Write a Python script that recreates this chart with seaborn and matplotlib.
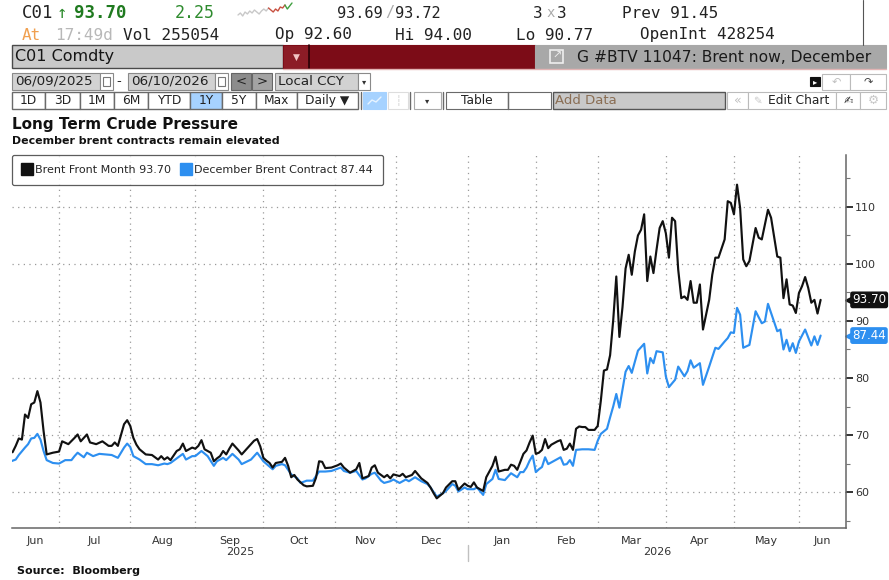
import matplotlib
matplotlib.use('Agg')
import numpy as np
import pandas as pd
import matplotlib.pyplot as plt
import matplotlib.transforms as mtransforms
from matplotlib.patches import Rectangle
from matplotlib.lines import Line2D
import seaborn as sns

# --- data (daily closes, business-day axis) ---
front_label = 'Brent Front Month'
dec_label = 'December Brent Contract'

front_dates = [
    '2025-06-09', '2025-06-10', '2025-06-11', '2025-06-12', '2025-06-13', '2025-06-16', '2025-06-17',
    '2025-06-18', '2025-06-19', '2025-06-20', '2025-06-23', '2025-06-24', '2025-06-25', '2025-06-27',
    '2025-07-01', '2025-07-02', '2025-07-04', '2025-07-08', '2025-07-09', '2025-07-10', '2025-07-14',
    '2025-07-15', '2025-07-17', '2025-07-21', '2025-07-23', '2025-07-24', '2025-07-25', '2025-07-28',
    '2025-07-30', '2025-07-31',
    '2025-08-01', '2025-08-04', '2025-08-05', '2025-08-06', '2025-08-08', '2025-08-12', '2025-08-14',
    '2025-08-15', '2025-08-18', '2025-08-19', '2025-08-20', '2025-08-22', '2025-08-25', '2025-08-26',
    '2025-08-27', '2025-08-29',
    '2025-09-01', '2025-09-02', '2025-09-03', '2025-09-04', '2025-09-08', '2025-09-09', '2025-09-10',
    '2025-09-11', '2025-09-12', '2025-09-15', '2025-09-16', '2025-09-17', '2025-09-19', '2025-09-22',
    '2025-09-24', '2025-09-26', '2025-09-29', '2025-09-30',
    '2025-10-01', '2025-10-02', '2025-10-03', '2025-10-06', '2025-10-07', '2025-10-09', '2025-10-10',
    '2025-10-13', '2025-10-14', '2025-10-15', '2025-10-16', '2025-10-20', '2025-10-21', '2025-10-23',
    '2025-10-24', '2025-10-27', '2025-10-28', '2025-10-29', '2025-10-31',
    '2025-11-04', '2025-11-05', '2025-11-06', '2025-11-10', '2025-11-12', '2025-11-13', '2025-11-14',
    '2025-11-18', '2025-11-19', '2025-11-20', '2025-11-21', '2025-11-25', '2025-11-26', '2025-11-27',
    '2025-11-28',
    '2025-12-02', '2025-12-03', '2025-12-04', '2025-12-08', '2025-12-09', '2025-12-11', '2025-12-15',
    '2025-12-16', '2025-12-17', '2025-12-18', '2025-12-22', '2025-12-23', '2025-12-25', '2025-12-26',
    '2025-12-29', '2025-12-31',
    '2026-01-01', '2026-01-02', '2026-01-05', '2026-01-06', '2026-01-08', '2026-01-09', '2026-01-12',
    '2026-01-13', '2026-01-14', '2026-01-15', '2026-01-19', '2026-01-20', '2026-01-21', '2026-01-22',
    '2026-01-23', '2026-01-26', '2026-01-27', '2026-01-28', '2026-01-29', '2026-01-30',
    '2026-02-02', '2026-02-03', '2026-02-04', '2026-02-05', '2026-02-06', '2026-02-09', '2026-02-10',
    '2026-02-11', '2026-02-12', '2026-02-13', '2026-02-16', '2026-02-17', '2026-02-18', '2026-02-19',
    '2026-02-20', '2026-02-23', '2026-02-24', '2026-02-25', '2026-02-27',
    '2026-03-02', '2026-03-03', '2026-03-04', '2026-03-05', '2026-03-06', '2026-03-09', '2026-03-10',
    '2026-03-11', '2026-03-12', '2026-03-13', '2026-03-16', '2026-03-17', '2026-03-18', '2026-03-19',
    '2026-03-20', '2026-03-23', '2026-03-24', '2026-03-25', '2026-03-26', '2026-03-27', '2026-03-30',
    '2026-03-31',
    '2026-04-01', '2026-04-02', '2026-04-03', '2026-04-06', '2026-04-07', '2026-04-08', '2026-04-09',
    '2026-04-10', '2026-04-13', '2026-04-14', '2026-04-15', '2026-04-16', '2026-04-17', '2026-04-21',
    '2026-04-22', '2026-04-23', '2026-04-24', '2026-04-28', '2026-04-29', '2026-04-30',
    '2026-05-01', '2026-05-04', '2026-05-05', '2026-05-06', '2026-05-07', '2026-05-08', '2026-05-12',
    '2026-05-13', '2026-05-14', '2026-05-18', '2026-05-19', '2026-05-21', '2026-05-22', '2026-05-25',
    '2026-05-26', '2026-05-27', '2026-05-28', '2026-05-29',
    '2026-06-01', '2026-06-02', '2026-06-03', '2026-06-04', '2026-06-05', '2026-06-08', '2026-06-09',
    '2026-06-10',
]
front_values = [
    66.9, 67.0, 68.1, 69.4, 69.2, 73.6, 73.0,
    75.4, 75.7, 77.7, 75.7, 70.7, 66.6, 66.9,
    67.1, 68.9, 68.4, 69.5, 70.1, 68.9, 70.1,
    68.7, 68.4, 68.9, 68.1, 68.1, 68.7, 68.1,
    71.9, 72.6,
    71.6, 69.5, 68.3, 67.5, 66.6, 66.5, 65.7,
    66.3, 65.7, 66.1, 65.6, 67.2, 67.5, 68.5,
    67.2, 67.8,
    67.6, 68.1, 69.1, 67.5, 66.9, 65.4, 65.9,
    66.3, 67.2, 66.6, 67.6, 68.5, 67.3, 66.6,
    67.8, 69.0, 69.3, 68.0,
    66.0, 65.5, 65.1, 64.3, 65.1, 65.3, 66.0,
    64.6, 62.6, 63.0, 62.2, 61.2, 61.0, 61.1,
    62.5, 65.4, 65.3, 64.2, 64.3,
    64.7, 65.0, 64.3, 63.4, 64.0, 65.1, 62.4,
    62.8, 64.3, 64.7, 63.4, 62.6, 63.0, 62.4,
    63.1,
    62.8, 63.2, 62.6, 63.0, 63.7, 62.4, 61.6,
    60.8, 59.8, 58.9, 59.8, 60.8, 61.9, 61.9,
    60.4, 61.5,
    61.1, 60.9, 61.7, 60.8, 60.2, 62.6, 63.6,
    64.6, 66.2, 63.6, 63.9, 63.9, 64.8, 64.6,
    63.9, 65.3, 66.7, 67.3, 68.7, 69.9,
    66.7, 66.9, 67.4, 69.3, 67.7, 68.3, 68.6,
    68.9, 69.1, 67.4, 67.6, 68.5, 67.4, 71.1,
    71.5, 71.4, 71.4, 70.9, 70.9,
    71.6, 76.0, 81.3, 81.5, 84.0, 90.1, 97.8,
    87.2, 92.4, 99.2, 101.6, 98.1, 102.2, 105.0,
    106.0, 108.7, 97.0, 101.3, 98.4, 102.5, 106.3,
    107.5,
    105.4, 101.1, 108.1, 107.5, 99.0, 94.0, 94.3,
    93.7, 97.0, 93.2, 93.2, 96.4, 88.5, 93.7,
    98.1, 101.1, 101.1, 104.3, 111.0, 110.7,
    108.7, 113.9, 109.8, 100.8, 99.6, 100.5, 106.3,
    104.6, 104.3, 109.5, 108.1, 101.3, 101.1, 94.0,
    97.3, 92.9, 92.7, 91.4,
    94.9, 96.1, 97.7, 95.8, 93.2, 93.7, 91.3,
    93.70,
]

dec_dates = [
    '2025-06-09', '2025-06-11', '2025-06-12', '2025-06-16', '2025-06-17', '2025-06-18', '2025-06-19',
    '2025-06-20', '2025-06-23', '2025-06-24', '2025-06-25', '2025-06-27',
    '2025-07-01', '2025-07-03', '2025-07-07', '2025-07-08', '2025-07-09', '2025-07-11', '2025-07-14',
    '2025-07-16', '2025-07-18', '2025-07-22', '2025-07-24', '2025-07-28', '2025-07-30', '2025-07-31',
    '2025-08-01', '2025-08-04', '2025-08-06', '2025-08-08', '2025-08-12', '2025-08-14', '2025-08-18',
    '2025-08-19', '2025-08-20', '2025-08-22', '2025-08-26', '2025-08-27', '2025-08-29',
    '2025-09-01', '2025-09-03', '2025-09-05', '2025-09-09', '2025-09-10', '2025-09-12', '2025-09-15',
    '2025-09-17', '2025-09-19', '2025-09-22', '2025-09-25', '2025-09-29',
    '2025-10-01', '2025-10-06', '2025-10-07', '2025-10-09', '2025-10-10', '2025-10-14', '2025-10-16',
    '2025-10-17', '2025-10-21', '2025-10-23', '2025-10-24', '2025-10-27', '2025-10-29', '2025-10-31',
    '2025-11-05', '2025-11-06', '2025-11-10', '2025-11-12', '2025-11-14', '2025-11-17', '2025-11-19',
    '2025-11-20', '2025-11-24', '2025-11-25', '2025-11-27', '2025-11-28',
    '2025-12-02', '2025-12-04', '2025-12-05', '2025-12-09', '2025-12-11', '2025-12-15', '2025-12-16',
    '2025-12-18', '2025-12-22', '2025-12-23', '2025-12-25', '2025-12-26', '2025-12-29', '2025-12-31',
    '2026-01-01', '2026-01-05', '2026-01-06', '2026-01-08', '2026-01-09', '2026-01-13', '2026-01-14',
    '2026-01-15', '2026-01-19', '2026-01-21', '2026-01-23', '2026-01-26', '2026-01-27', '2026-01-28',
    '2026-01-29', '2026-01-30',
    '2026-02-02', '2026-02-03', '2026-02-04', '2026-02-05', '2026-02-06', '2026-02-10', '2026-02-12',
    '2026-02-13', '2026-02-16', '2026-02-17', '2026-02-18', '2026-02-19', '2026-02-23', '2026-02-25',
    '2026-02-27',
    '2026-03-02', '2026-03-03', '2026-03-05', '2026-03-06', '2026-03-09', '2026-03-10', '2026-03-11',
    '2026-03-13', '2026-03-16', '2026-03-17', '2026-03-19', '2026-03-20', '2026-03-23', '2026-03-24',
    '2026-03-25', '2026-03-26', '2026-03-27', '2026-03-31',
    '2026-04-01', '2026-04-02', '2026-04-06', '2026-04-07', '2026-04-09', '2026-04-10', '2026-04-13',
    '2026-04-14', '2026-04-16', '2026-04-17', '2026-04-21', '2026-04-23', '2026-04-24', '2026-04-28',
    '2026-04-29', '2026-04-30',
    '2026-05-01', '2026-05-04', '2026-05-05', '2026-05-06', '2026-05-08', '2026-05-12', '2026-05-14',
    '2026-05-15', '2026-05-18', '2026-05-19', '2026-05-21', '2026-05-22', '2026-05-25', '2026-05-26',
    '2026-05-27', '2026-05-28', '2026-05-29',
    '2026-06-01', '2026-06-03', '2026-06-05', '2026-06-08', '2026-06-09', '2026-06-10',
]
dec_values = [
    65.3, 65.7, 66.5, 67.8, 68.4, 69.4, 69.5,
    70.2, 69.2, 67.2, 65.6, 65.1,
    65.0, 65.6, 65.6, 66.3, 66.9, 66.1, 66.9,
    66.3, 66.7, 66.6, 66.5, 66.0, 67.8, 68.5,
    67.9, 66.3, 65.7, 64.9, 64.9, 64.7, 65.0,
    64.9, 65.1, 65.9, 66.7, 65.7, 66.3,
    66.3, 67.2, 66.3, 64.6, 65.4, 66.0, 65.6,
    66.7, 65.7, 64.9, 65.7, 66.9,
    65.4, 64.0, 64.6, 64.9, 64.7, 63.1, 62.4,
    61.6, 62.0, 62.0, 62.8, 63.6, 63.6, 63.7,
    64.3, 63.7, 63.4, 63.7, 62.2, 62.4, 63.2,
    63.4, 62.0, 61.6, 61.9, 62.2,
    61.6, 62.2, 61.9, 62.6, 61.9, 61.4, 60.8,
    59.2, 59.8, 60.2, 61.4, 61.1, 60.1, 60.8,
    60.5, 60.5, 60.8, 59.5, 61.4, 62.3, 63.9,
    62.3, 62.1, 63.3, 62.6, 63.5, 63.5, 64.3,
    65.5, 66.4,
    63.5, 64.0, 64.4, 66.1, 64.9, 65.5, 66.1,
    64.8, 64.9, 65.6, 64.6, 67.4, 67.5, 67.5,
    67.4,
    69.0, 70.2, 71.1, 73.1, 75.0, 77.2, 74.8,
    81.1, 82.1, 80.9, 84.8, 85.4, 86.0, 80.8,
    83.5, 82.6, 84.7, 84.5,
    80.3, 78.4, 79.7, 82.0, 80.3, 81.2, 83.1,
    81.8, 82.6, 78.8, 82.0, 85.3, 85.1, 86.4,
    87.0, 88.0,
    87.9, 92.3, 91.1, 85.3, 85.8, 91.7, 89.6,
    89.9, 93.0, 91.4, 88.2, 88.5, 85.0, 86.7,
    84.7, 86.1, 84.4,
    86.4, 88.5, 85.7, 87.3, 85.8, 87.44,
]

y_ticks = [60, 70, 80, 90, 100, 110]
y_minor = [55, 65, 75, 85, 95, 105, 115]
years = ['2025', '2026']
spark_values = [5, 7, 4, 8, 6, 9, 7, 10, 8, 6, 9, 11, 9, 12, 10, 8, 11, 9, 13, 12, 15, 11, 14, 17]

BLACK = '#111111'
BLUE = '#2d8ff0'

sns.set_style('white')
plt.rcParams['font.family'] = ['DejaVu Sans']

W, H = 889, 580
fig = plt.figure(figsize=(W / 100, H / 100), dpi=100)
fig.patch.set_facecolor('white')

# full-figure layer in pixel coordinates for the terminal chrome
ui = fig.add_axes([0, 0, 1, 1])
ui.set_xlim(0, W)
ui.set_ylim(H, 0)
ui.axis('off')


def box(x0, y0, x1, y1, fc, ec=None, lw=0.8):
    ui.add_patch(Rectangle((x0, y0), x1 - x0, y1 - y0, facecolor=fc,
                           edgecolor=ec if ec else fc, lw=lw))


def txt(x, y, s, size=9, color='#222222', ha='left', weight='normal', family=None):
    kw = {}
    if family:
        kw['family'] = family
    ui.text(x, y, s, fontsize=size, color=color, ha=ha, va='center', weight=weight, **kw)


MONO = ['DejaVu Sans Mono']
# row 1 - quote line
txt(22, 13, 'C01', 12.5, '#222222', family=MONO)
txt(57, 13, '\u2191', 12.5, '#2a8a2a', family=MONO)
txt(74, 13, '93.70', 12.5, '#1f7a1f', weight='bold', family=MONO)
txt(175, 13, '2.25', 12, '#2e8b2e', family=MONO)
sx = np.linspace(238, 292, len(spark_values))
sy = 20 - np.array(spark_values)
ui.plot(sx[:14], sy[:14], color='#c8c8c8', lw=1)
ui.plot(sx[13:21], sy[13:21], color='#c85040', lw=1)
ui.plot(sx[20:], sy[20:], color='#40a040', lw=1)
txt(337, 13, '93.69', 11, '#222222', family=MONO)
txt(385, 13, '/', 11, '#aaaaaa', family=MONO)
txt(395, 13, '93.72', 11, '#222222', family=MONO)
txt(533, 13, '3', 11.5, '#222222', family=MONO)
txt(546, 13, 'x', 10, '#aaaaaa', family=MONO)
txt(557, 13, '3', 11.5, '#222222', family=MONO)
txt(622, 13, 'Prev 91.45', 11.5, '#222222', family=MONO)
ui.plot([863, 863], [0, 45], color='#555555', lw=0.8)
# row 2
txt(22, 35, 'At', 11.5, '#f0a050', family=MONO)
txt(55, 35, '17:49d', 11.5, '#b8b8b8', family=MONO)
txt(123, 35, 'Vol 255054', 11.5, '#222222', family=MONO)
txt(275, 35, 'Op 92.60', 11.5, '#222222', family=MONO)
txt(395, 35, 'Hi 94.00', 11.5, '#222222', family=MONO)
txt(516, 35, 'Lo 90.77', 11.5, '#222222', family=MONO)
txt(640, 35, 'OpenInt 428254', 11.5, '#222222', family=MONO)

# row 3 - security bar
box(12, 45, 283, 68, '#c9c9c9', '#4a4a4a', 1)
txt(15, 57, 'C01 Comdty', 11.5, '#151515')
box(283, 45, 535, 68, '#7c0c17')
box(284, 46, 308, 67, '#8c1c26')
ui.plot([308.5, 308.5], [45, 68], color='#2a0005', lw=1.2)
txt(296, 57, '\u25bc', 6.5, '#f2c4c4', ha='center')
box(535, 45, 886, 68, '#a8a8a8')
ui.plot([283, 886], [68.5, 68.5], color='#e2b4b4', lw=1)
box(550, 50, 563, 63, '#a8a8a8', '#eeeeee', 1.2)
txt(557, 56, '\u2197', 8, '#eeeeee', ha='center')
txt(577, 57, 'G #BTV 11047: Brent now, December', 11.2, '#1a1a1a')

# row 4 - date range
box(12, 73, 100, 90, '#d2d2d2', '#8a8a8a')
txt(15, 81.5, '06/09/2025', 9.7, '#222222')
box(100, 73, 113, 90, 'white', '#8a8a8a')
box(103, 77, 110, 86, 'white', '#777777', 0.8)
txt(116, 81.5, '-', 9.5, '#222222')
box(128, 73, 215, 90, '#d2d2d2', '#8a8a8a')
txt(131, 81.5, '06/10/2026', 9.7, '#222222')
box(215, 73, 228, 90, 'white', '#8a8a8a')
box(218, 77, 225, 86, 'white', '#777777', 0.8)
box(231, 73, 251, 90, '#8c8c8c', '#666666')
txt(241, 81.5, '<', 9.5, '#222222', ha='center')
box(252, 73, 272, 90, '#a3a3a3', '#666666')
txt(262, 81.5, '>', 9.5, '#222222', ha='center')
box(275, 73, 358, 90, '#d2d2d2', '#8a8a8a')
txt(278, 81.5, 'Local CCY', 9.7, '#222222')
box(358, 73, 370, 90, 'white', '#8a8a8a')
txt(364, 82, '\u25be', 6, '#333333', ha='center')
box(810, 77, 820, 86, '#111111')
txt(815, 81.5, '\u25b8', 6, 'white', ha='center')
box(822, 74, 850, 90, 'white', '#bbbbbb')
txt(836, 82, '\u21b6', 8, '#c0c0c0', ha='center')
box(850, 74, 886, 90, 'white', '#bbbbbb')
txt(868, 82, '\u21b7', 8, '#444444', ha='center')

# row 5 - toolbar
buttons = [(12, 45, '1D'), (45, 80, '3D'), (80, 114, '1M'), (114, 148, '6M'),
           (148, 190, 'YTD'), (190, 222, '1Y'), (222, 256, '5Y'), (256, 297, 'Max'),
           (297, 358, 'Daily \u25bc')]
for x0, x1, lab in buttons:
    fc = '#a6d2ff' if lab == '1Y' else 'white'
    box(x0, 92, x1, 109, fc, '#6a6a6a', 1)
    txt((x0 + x1) / 2, 100.5, lab, 8.8, '#222222', ha='center')
for xd in (361, 410, 443, 508):
    ui.plot([xd, xd], [92, 109], color='#6a6a6a', lw=1)
box(363, 92, 386, 109, '#a6d2ff', '#a6d2ff')
ui.plot([368, 372, 376, 381], [104, 100, 102, 97], color='#e8f4ff', lw=1)
box(388, 92, 408, 109, 'white', '#dddddd')
txt(398, 100.5, '\u2506', 7, '#cccccc', ha='center')
box(414, 92, 441, 109, 'white', '#aaaaaa')
txt(427.5, 101, '\u25be', 6, '#333333', ha='center')
box(446, 92, 508, 109, 'white', '#6a6a6a')
txt(477, 100.5, 'Table', 8.8, '#222222', ha='center')
box(508, 92, 551, 109, 'white', '#6a6a6a')
box(553, 92, 725, 109, '#c9c9c9', '#555555', 1)
txt(555, 100.5, 'Add Data', 9.5, '#8a6e54')
box(727, 92, 748, 109, 'white', '#bbbbbb')
txt(737.5, 100.5, '\u00ab', 9, '#c0c0c0', ha='center')
box(748, 92, 836, 109, 'white', '#bbbbbb')
txt(757, 100.5, '\u270e', 7.5, '#c8c8c8', ha='center')
txt(768, 100.5, 'Edit Chart', 8.8, '#222222')
box(836, 92, 860, 109, 'white', '#bbbbbb')
txt(848, 100.5, '\u270d', 8, '#333333', ha='center')
box(860, 92, 886, 109, 'white', '#bbbbbb')
txt(873, 100.5, '\u2699', 9, '#c8c8c8', ha='center')

# titles and source
txt(12, 124, 'Long Term Crude Pressure', 11, '#111111', weight='bold')
txt(12, 141, 'December brent contracts remain elevated', 7.9, '#111111', weight='bold')
txt(17, 571, 'Source:  Bloomberg', 8, '#111111', weight='bold')

# --- the chart itself ---
L, R, T, B = 12, 846, 155, 528
ax = fig.add_axes([L / W, 1 - B / H, (R - L) / W, (B - T) / H])
ax.set_facecolor('white')

days = pd.bdate_range('2025-06-09', '2026-06-10')
front = pd.DataFrame({'pos': days.get_indexer(pd.to_datetime(front_dates)),
                      'price': front_values, 'series': front_label})
dec = pd.DataFrame({'pos': days.get_indexer(pd.to_datetime(dec_dates)),
                    'price': dec_values, 'series': dec_label})
df = pd.concat([dec, front], ignore_index=True)

# December contract first so the front month sits on top
sns.lineplot(data=df, x='pos', y='price', hue='series', hue_order=[dec_label, front_label],
             palette=[BLUE, BLACK], linewidth=1.55, sort=False, estimator=None,
             legend=False, ax=ax)

x0, x1 = 0.8, 270.2
ax.set_xlim(x0, x1)
ax.set_ylim(53.7, 119.1)

starts = [i for i in range(1, len(days)) if days[i].month != days[i - 1].month]
bounds = [x0] + starts + [x1]
centers = [(a + b) / 2 for a, b in zip(bounds[:-1], bounds[1:])]
names = [days[0].strftime('%b')] + [days[i].strftime('%b') for i in starts]

ax.set_xticks(starts)
ax.set_xticklabels([])
ax.set_xticks(centers, minor=True)
ax.set_xticklabels(names, minor=True)
ax.tick_params(axis='x', which='major', direction='out', length=4, width=1, color='#666666')
ax.tick_params(axis='x', which='minor', length=0, pad=6, labelsize=8, labelcolor='#333333')

ax.yaxis.tick_right()
ax.set_yticks(y_ticks)
ax.set_yticklabels([str(v) for v in y_ticks])
ax.set_yticks(y_minor, minor=True)
ax.tick_params(axis='y', which='major', direction='out', length=5, width=1.4, color='#333333',
               pad=1.5, labelsize=8, labelcolor='#333333')
ax.tick_params(axis='y', which='minor', direction='out', length=3, width=0.8, color='#777777')
ax.set_xlabel('')
ax.set_ylabel('')

ax.grid(True, which='major', color='#9a9a9a', linestyle=(0, (1, 3.5)), linewidth=0.9)
for side in ('top', 'left'):
    ax.spines[side].set_visible(False)
for side in ('right', 'bottom'):
    ax.spines[side].set_visible(True)
    ax.spines[side].set_color('#666666')
    ax.spines[side].set_linewidth(1.1)

# year labels under the months
trans = mtransforms.blended_transform_factory(ax.transData, ax.transAxes)
jan = [i for i in starts if days[i].month == 1][0]
for yr, (a, b) in zip(years, [(x0, jan), (jan, x1)]):
    ax.text((a + b) / 2, -0.064, yr, transform=trans, ha='center', va='center',
            fontsize=8, color='#333333')
ax.plot([jan, jan], [-0.045, -0.088], transform=trans, color='#c0c0c0', lw=1, clip_on=False)

# legend box
handles = [Line2D([], [], marker='s', color=c, linestyle='none', markersize=8.5)
           for c in (BLACK, BLUE)]
labels = [f'{front_label} {front_values[-1]:.2f}', f'{dec_label} {dec_values[-1]:.2f}']
leg = ax.legend(handles, labels, loc='upper left', bbox_to_anchor=(0, 1), ncol=2,
                frameon=True, fancybox=True, fontsize=8.0, handletextpad=0.25,
                columnspacing=0.95, borderpad=0.9, handlelength=0.9, borderaxespad=0)
leg.get_frame().set_edgecolor('#333333')
leg.get_frame().set_linewidth(0.9)

# last-value tags on the right axis
ytrans = mtransforms.blended_transform_factory(ax.transAxes, ax.transData)
for vals, c in ((front_values, BLACK), (dec_values, BLUE)):
    v = vals[-1]
    ax.plot([1.0045], [v], marker='<', markersize=6.5, color=c, transform=ytrans, clip_on=False)
    ax.annotate(f'{v:.2f}', xy=(1.0, v), xycoords=ytrans, xytext=(4.4, 0),
                textcoords='offset points', ha='left', va='center', fontsize=8.6, color='white',
                bbox=dict(boxstyle='round,pad=0.1,rounding_size=0.15', fc=c, ec=c))

fig.savefig('out.png', dpi=100, facecolor='white')
